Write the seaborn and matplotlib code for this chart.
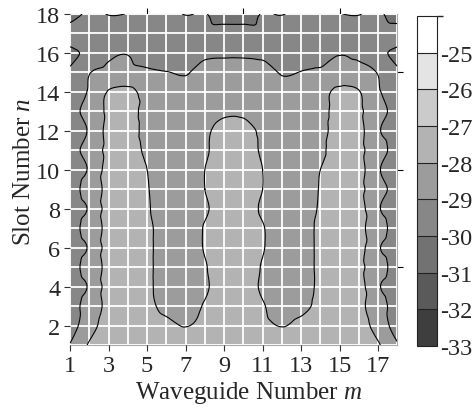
import numpy as np
import matplotlib
matplotlib.use("Agg")
import matplotlib.pyplot as plt
import matplotlib.tri as mtri
from matplotlib.colors import ListedColormap, BoundaryNorm
from matplotlib.ticker import MultipleLocator, FixedLocator
import seaborn as sns

# ---------------- data ----------------
waveguide_m = list(range(1, 19))          # x: waveguide number m
slot_n = list(range(1, 19))               # y: slot number n

row_n01 = [-28.95, -27.9, -27.6, -27.55, -27.6, -27.65, -27.6, -27.55, -27.5, -27.5, -27.55, -27.6, -27.65, -27.6, -27.55, -27.6, -27.9, -28.9]
row_n02 = [-29.45, -28.4, -27.6, -27.55, -27.7, -27.85, -28.02, -27.85, -27.6, -27.6, -27.85, -28.02, -27.85, -27.7, -27.55, -27.6, -28.4, -29.45]
row_n03 = [-29.4, -28.6, -27.77, -27.6, -27.85, -28.15, -28.25, -27.95, -27.65, -27.65, -27.95, -28.25, -28.15, -27.85, -27.6, -27.77, -28.6, -29.4]
row_n04 = [-29.5, -28.9, -27.65, -27.6, -27.9, -28.2, -28.35, -28.1, -27.65, -27.65, -28.1, -28.35, -28.2, -27.9, -27.6, -27.65, -28.9, -29.5]
row_n05 = [-29.4, -28.6, -27.77, -27.6, -27.9, -28.2, -28.4, -28.05, -27.65, -27.65, -28.05, -28.4, -28.2, -27.9, -27.6, -27.77, -28.6, -29.4]
row_n06 = [-29.5, -28.9, -27.65, -27.6, -27.9, -28.2, -28.4, -27.95, -27.6, -27.6, -27.95, -28.4, -28.2, -27.9, -27.6, -27.65, -28.9, -29.5]
row_n07 = [-29.4, -28.6, -27.77, -27.6, -27.9, -28.2, -28.4, -27.95, -27.6, -27.6, -27.95, -28.4, -28.2, -27.9, -27.6, -27.77, -28.6, -29.4]
row_n08 = [-29.5, -28.9, -27.65, -27.6, -27.95, -28.2, -28.4, -28.1, -27.65, -27.65, -28.1, -28.4, -28.2, -27.95, -27.6, -27.65, -28.9, -29.5]
row_n09 = [-29.4, -28.6, -27.77, -27.6, -27.97, -28.2, -28.4, -28.0, -27.6, -27.6, -28.0, -28.4, -28.2, -27.97, -27.6, -27.77, -28.6, -29.4]
row_n10 = [-29.5, -28.9, -27.65, -27.6, -28.0, -28.25, -28.4, -28.0, -27.6, -27.6, -28.0, -28.4, -28.25, -28.0, -27.6, -27.65, -28.9, -29.5]
row_n11 = [-29.4, -28.6, -27.77, -27.6, -28.15, -28.25, -28.4, -28.1, -27.65, -27.65, -28.1, -28.4, -28.25, -28.15, -27.6, -27.77, -28.6, -29.4]
row_n12 = [-29.5, -28.9, -27.72, -27.6, -28.27, -28.3, -28.4, -28.15, -27.7, -27.7, -28.15, -28.4, -28.3, -28.27, -27.6, -27.72, -28.9, -29.5]
row_n13 = [-29.4, -28.6, -27.85, -27.65, -28.3, -28.3, -28.45, -28.45, -28.16, -28.16, -28.45, -28.45, -28.3, -28.3, -27.65, -27.85, -28.6, -29.4]
row_n14 = [-29.5, -28.9, -27.95, -27.8, -28.3, -28.6, -28.8, -28.6, -28.5, -28.5, -28.6, -28.8, -28.6, -28.3, -27.8, -27.95, -28.9, -29.5]
row_n15 = [-29.85, -29.05, -28.7, -28.7, -28.85, -28.98, -29.05, -28.7, -28.65, -28.65, -28.7, -29.05, -28.98, -28.85, -28.7, -28.7, -29.05, -29.85]
row_n16 = [-30.2, -29.8, -29.2, -29.05, -29.45, -29.3, -29.4, -29.2, -29.15, -29.15, -29.2, -29.4, -29.3, -29.45, -29.05, -29.2, -29.8, -30.2]
row_n17 = [-29.5, -29.5, -29.6, -29.7, -29.6, -29.5, -29.6, -29.8, -29.75, -29.75, -29.8, -29.6, -29.5, -29.6, -29.7, -29.6, -29.5, -29.5]
row_n18 = [-30.6, -29.8, -30.03, -29.99, -29.8, -29.8, -30.03, -29.97, -30.25, -30.25, -29.97, -30.03, -29.8, -29.8, -29.99, -30.03, -29.8, -30.6]

level_edges = [-33, -32, -31, -30, -29, -28, -27, -26, -25, -24]
colorbar_ticks = [-33, -32, -31, -30, -29, -28, -27, -26, -25]
band_grays = ["#3e3e3e", "#5a5a5a", "#727272", "#878787", "#9c9c9c", "#b3b3b3",
              "#cbcbcb", "#e4e4e4", "#ffffff"]
x_ticks = [1, 3, 5, 7, 9, 11, 13, 15, 17]
y_ticks = [2, 4, 6, 8, 10, 12, 14, 16, 18]
frame_ticks = [5, 10, 15]

# ---------------- style ----------------
sns.set_theme(style="ticks")
plt.rcParams["font.family"] = ["Liberation Serif", "DejaVu Serif"]
plt.rcParams["mathtext.fontset"] = "custom"
plt.rcParams["mathtext.rm"] = "Liberation Serif"
plt.rcParams["mathtext.it"] = "Liberation Serif:italic"
plt.rcParams["axes.unicode_minus"] = False

Z = np.array([row_n01, row_n02, row_n03, row_n04, row_n05, row_n06, row_n07, row_n08, row_n09,
              row_n10, row_n11, row_n12, row_n13, row_n14, row_n15, row_n16, row_n17, row_n18])
X, Y = np.meshgrid(waveguide_m, slot_n)

# smooth contouring through matplotlib's own triangulation refiner
tri = mtri.Triangulation(X.ravel(), Y.ravel())
refiner = mtri.UniformTriRefiner(tri)
interp = mtri.CubicTriInterpolator(tri, Z.ravel(), kind="geom")
tri_f, z_f = refiner.refine_field(Z.ravel(), triinterpolator=interp, subdiv=3)

cmap = ListedColormap(band_grays)
norm = BoundaryNorm(level_edges, cmap.N)

fig = plt.figure(figsize=(4.77, 4.14), dpi=100)
ax = fig.add_axes([0.147, 0.164, 0.686, 0.800])

cf = ax.tricontourf(tri_f, z_f, levels=level_edges, cmap=cmap, norm=norm, zorder=1)
ax.tricontour(tri_f, z_f, levels=level_edges, colors="black", linewidths=0.8,
              linestyles="solid", zorder=3)

ax.set_xlim(1, 18)
ax.set_ylim(1, 18)
ax.xaxis.set_major_locator(FixedLocator(x_ticks))
ax.yaxis.set_major_locator(FixedLocator(y_ticks))
ax.xaxis.set_minor_locator(MultipleLocator(1))
ax.yaxis.set_minor_locator(MultipleLocator(1))
ax.grid(which="both", color="white", linewidth=1.3, zorder=2)
ax.set_axisbelow(False)
ax.tick_params(which="minor", length=0)
ax.tick_params(which="major", direction="out", length=4, width=0.8, color="#333333",
               labelsize=17.5, pad=3)
for s in ax.spines.values():
    s.set_color("#aaaaaa")
    s.set_linewidth(0.8)

ax.set_xlabel("Waveguide Number $m$", fontsize=18)
ax.set_ylabel("Slot Number $n$", fontsize=18)
ax.xaxis.set_label_coords(0.545, -0.103)
ax.yaxis.set_label_coords(-0.108, 0.526)

top = ax.secondary_xaxis("top")
top.set_xticks(frame_ticks)
top.set_xticklabels([])
top.tick_params(direction="out", length=4, width=0.8, color="black")
top.spines["top"].set_visible(False)
right = ax.secondary_yaxis("right")
right.set_yticks(frame_ticks)
right.set_yticklabels([])
right.tick_params(direction="out", length=4, width=0.8, color="black")
right.spines["right"].set_visible(False)

cax = fig.add_axes([0.874, 0.162, 0.042, 0.797])
cb = fig.colorbar(cf, cax=cax, ticks=colorbar_ticks, drawedges=True)
cb.outline.set_edgecolor("#222222")
cb.outline.set_linewidth(0.8)
cb.dividers.set_color("#222222")
cb.dividers.set_linewidth(0.8)
cax.tick_params(length=0, labelsize=17.5, pad=2)
cax.set_yticklabels([str(t) for t in colorbar_ticks])

fig.savefig("out.png", dpi=100)
